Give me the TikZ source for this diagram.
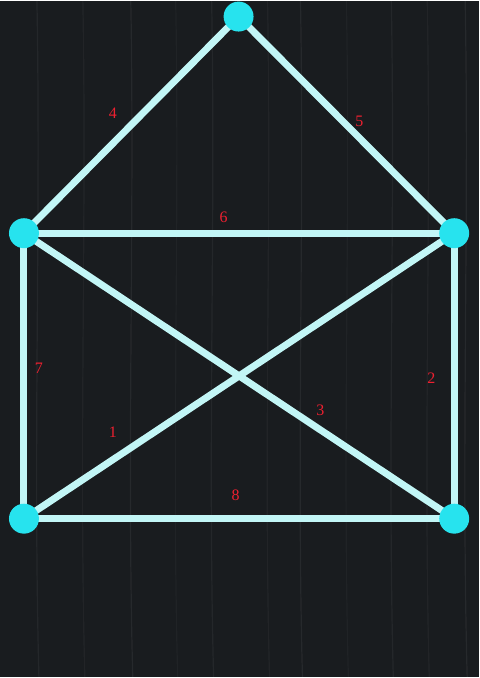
\documentclass[tikz,border=0pt]{standalone}
\usepackage{fontspec}
\setmainfont{Liberation Serif}
\begin{document}
\begin{tikzpicture}[x=1pt,y=-1pt,
  vtx/.style={circle,fill=vcol,minimum size=30pt,inner sep=0pt},
  edge/.style={draw=ecol,line width=7pt},
  lbl/.style={text=lcol,font=\fontsize{16}{16}\selectfont,inner sep=0pt}]
\definecolor{bg}{HTML}{191C1F}
\definecolor{vcol}{HTML}{27E3EE}
\definecolor{ecol}{HTML}{C2F6F6}
\definecolor{lcol}{HTML}{EE2030}
\fill[bg] (0,0) rectangle (480,678);
\foreach \x/\o in {37/0.05,83/0.04,131/0.06,176/0.03,212/0.05,268/0.04,301/0.06,347/0.03,392/0.05,428/0.04,466/0.06}
  \draw[white,opacity=\o,line width=1.2pt] (\x,0) .. controls (\x+4,220) and (\x-4,450) .. (\x+2,678);
\coordinate (T) at (239,16);
\coordinate (L) at (24,233);
\coordinate (R) at (455,233);
\coordinate (BL) at (24,519);
\coordinate (BR) at (455,519);
\draw[edge] (T) -- (L);
\draw[edge] (T) -- (R);
\draw[edge] (L) -- (R);
\draw[edge] (L) -- (BL);
\draw[edge] (R) -- (BR);
\draw[edge] (BL) -- (BR);
\draw[edge] (L) -- (BR);
\draw[edge] (BL) -- (R);
\node[vtx] (t) at (T) {};
\node[vtx] (l) at (L) {};
\node[vtx] (r) at (R) {};
\node[vtx] (bl) at (BL) {};
\node[vtx] (br) at (BR) {};
\node[lbl] (n4) at (113,113) {4};
\node[lbl] (n5) at (360,121) {5};
\node[lbl] (n6) at (224,217) {6};
\node[lbl] (n7) at (39,368) {7};
\node[lbl] (n2) at (432,378) {2};
\node[lbl] (n3) at (321,410) {3};
\node[lbl] (n1) at (113,432) {1};
\node[lbl] (n8) at (236,496) {8};
\end{tikzpicture}
\end{document}
